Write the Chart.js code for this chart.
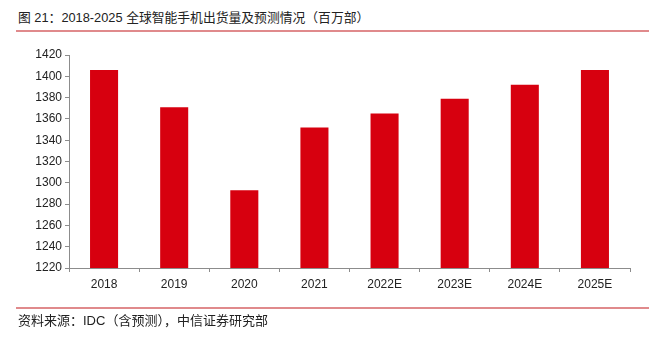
<!DOCTYPE html>
<html lang="zh">
<head>
    <meta charset="UTF-8">
    <title>全球智能手机出货量</title>
    <script src="https://cdn.jsdelivr.net/npm/chart.js"></script>
    <style>
        body {
            margin: 0;
            width: 656px;
            height: 337px;
            position: relative;
            background: #fff;
            font-family: "Liberation Sans", "Noto Sans CJK SC", sans-serif;
            color: #222;
        }
        .title {
            position: absolute;
            left: 18px;
            top: 10px;
            font-size: 12.8px;
            line-height: 16px;
            white-space: nowrap;
        }
        .rule {
            position: absolute;
            left: 16px;
            width: 633px;
            height: 2px;
            background: #e08a8c;
        }
        .source {
            position: absolute;
            left: 18px;
            top: 313px;
            font-size: 13px;
            line-height: 16px;
            white-space: nowrap;
        }
        #wrap {
            position: absolute;
            left: 0;
            top: 0;
            width: 656px;
            height: 337px;
        }
    </style>
</head>
<body>
    <div class="title">图 21：2018-2025 全球智能手机出货量及预测情况（百万部）</div>
    <div class="rule" style="top: 30px;"></div>
    <div id="wrap"><canvas id="myChart"></canvas></div>
    <div class="rule" style="top: 307px;"></div>
    <div class="source">资料来源：IDC（含预测），中信证券研究部</div>

    <script>
        const years = ['2018', '2019', '2020', '2021', '2022E', '2023E', '2024E', '2025E'];
        const shipments = [1406, 1371, 1293, 1352, 1365, 1379, 1392, 1406];
        const yTicks = [1220, 1240, 1260, 1280, 1300, 1320, 1340, 1360, 1380, 1400, 1420];

        const axisColor = '#8c8c8c';
        const tickFont = { family: '"Liberation Sans", Arial, sans-serif', size: 12 };

        const ctx = document.getElementById('myChart').getContext('2d');
        new Chart(ctx, {
            type: 'bar',
            data: {
                labels: years,
                datasets: [{
                    data: shipments,
                    backgroundColor: '#d7000f',
                    borderWidth: 0,
                    categoryPercentage: 1,
                    barPercentage: 0.4
                }]
            },
            options: {
                responsive: true,
                maintainAspectRatio: false,
                animation: false,
                layout: {
                    padding: { left: 0, right: 26, top: 55, bottom: 0 }
                },
                plugins: {
                    legend: { display: false },
                    tooltip: { enabled: false }
                },
                scales: {
                    x: {
                        offset: true,
                        grid: {
                            display: true,
                            offset: true,
                            drawOnChartArea: false,
                            drawTicks: true,
                            tickLength: 4,
                            color: axisColor
                        },
                        border: { color: axisColor },
                        ticks: {
                            color: '#222',
                            font: tickFont,
                            padding: 5,
                            maxRotation: 0
                        },
                        afterFit: scale => { scale.height = 69; }
                    },
                    y: {
                        min: yTicks[0],
                        max: yTicks[yTicks.length - 1],
                        afterBuildTicks: scale => {
                            scale.ticks = yTicks.map(v => ({ value: v }));
                        },
                        grid: {
                            display: true,
                            drawOnChartArea: false,
                            drawTicks: true,
                            tickLength: 4,
                            color: axisColor
                        },
                        border: { color: axisColor },
                        ticks: {
                            color: '#222',
                            font: tickFont,
                            padding: 3,
                            callback: value => String(value)
                        },
                        afterFit: scale => { scale.width = 69; }
                    }
                }
            }
        });
    </script>
</body>
</html>
